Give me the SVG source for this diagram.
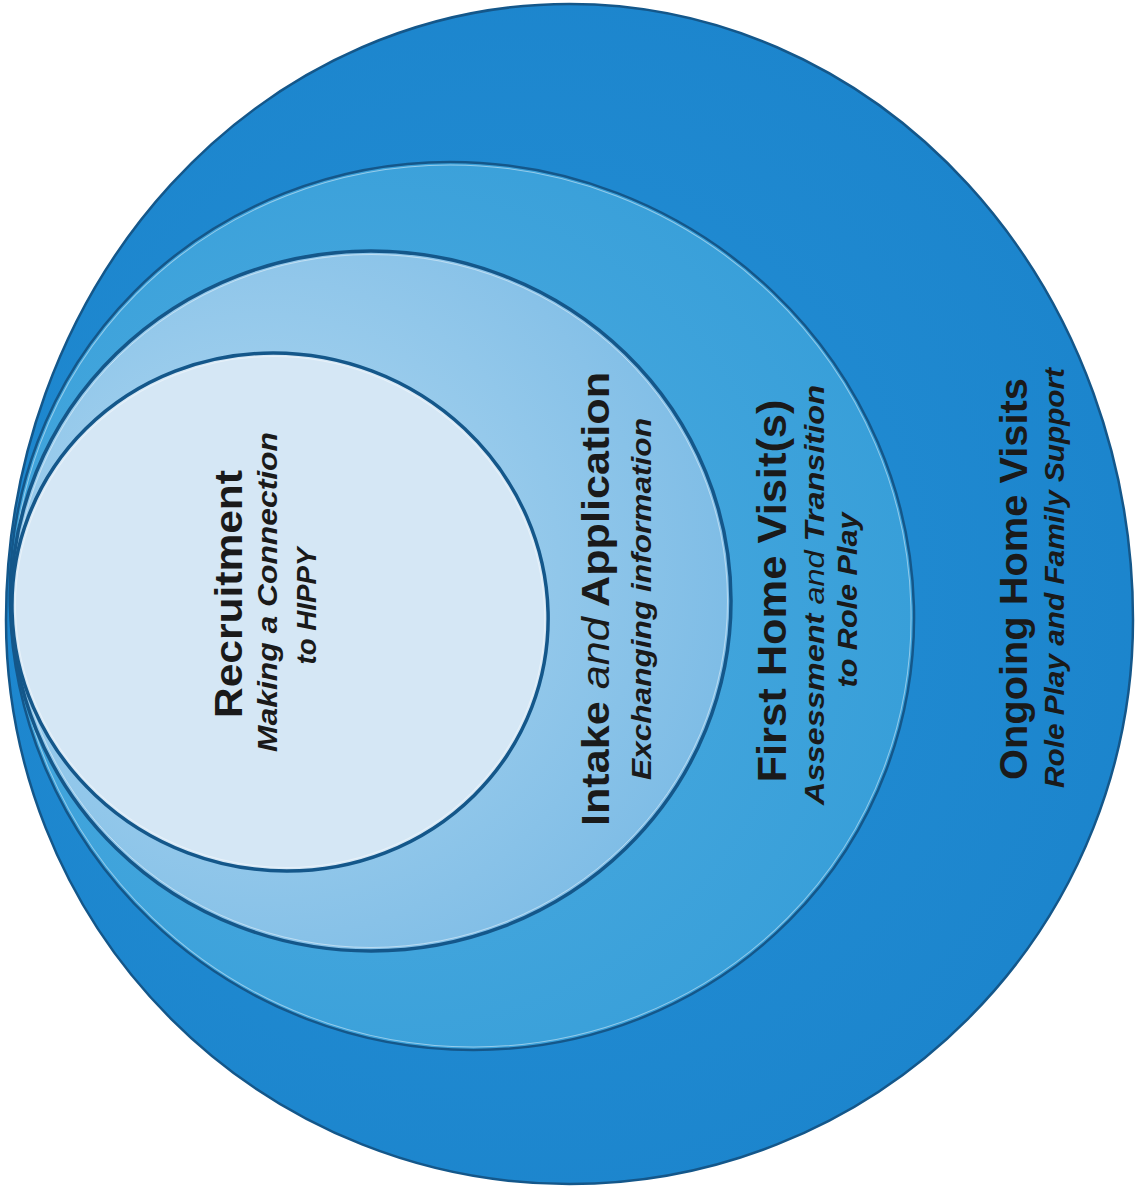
<svg xmlns="http://www.w3.org/2000/svg" width="1138" height="1191" viewBox="0 0 1138 1191">
  <defs>
    <style>
      .ring { stroke: #14578a; }
      .hl { fill: none; stroke: #ffffff; stroke-opacity: 0.45; stroke-width: 1; }
      .t { font-family: "Liberation Sans", Arial, sans-serif; fill: #1a1a1a; text-anchor: middle; }
      .b { font-weight: bold; }
      .bi { font-weight: bold; font-style: italic; }
      .ri { font-weight: normal; font-style: italic; }
    </style>
    <radialGradient id="g1" cx="0.45" cy="0.5" r="0.6">
      <stop offset="0" stop-color="#2590d6"/>
      <stop offset="1" stop-color="#1b84cc"/>
    </radialGradient>
    <radialGradient id="g2" cx="0.4" cy="0.5" r="0.6">
      <stop offset="0" stop-color="#4fade1"/>
      <stop offset="1" stop-color="#389fd9"/>
    </radialGradient>
    <radialGradient id="g3" cx="0.35" cy="0.45" r="0.65">
      <stop offset="0" stop-color="#b0d8f1"/>
      <stop offset="1" stop-color="#7fbde6"/>
    </radialGradient>
  </defs>
  <rect width="1138" height="1191" fill="#ffffff"/>

  <g id="ongoing">
    <path class="ring" d="M 6,620 A 563.5,616 0 0 1 1133,620 A 563.5,564 0 0 1 6,620 Z" fill="url(#g1)" stroke-width="2.5"/>
    <text class="t b" transform="translate(1027,579) rotate(-90)" font-size="38" textLength="402" lengthAdjust="spacingAndGlyphs">Ongoing Home Visits</text>
    <text class="t bi" transform="translate(1064,578) rotate(-90)" font-size="27" textLength="420" lengthAdjust="spacingAndGlyphs">Role Play and Family Support</text>
  </g>

  <g id="first-visit">
    <g transform="translate(0,610) skewX(1.5) translate(0,-610)">
      <ellipse class="ring" cx="462" cy="606" rx="452" ry="444" fill="url(#g2)" stroke-width="2.5"/>
      <ellipse class="hl" cx="462" cy="606" rx="449" ry="441"/>
    </g>
    <text class="t b" transform="translate(786,591) rotate(-90)" font-size="40" textLength="383" lengthAdjust="spacingAndGlyphs">First Home Visit(s)</text>
    <text class="t bi" transform="translate(824,595) rotate(-90)" font-size="28" textLength="420" lengthAdjust="spacingAndGlyphs">Assessment <tspan class="ri">and</tspan> Transition</text>
    <text class="t bi" transform="translate(857,600) rotate(-90)" font-size="28" textLength="175" lengthAdjust="spacingAndGlyphs">to Role Play</text>
  </g>

  <g id="intake">
    <ellipse class="ring" cx="371" cy="601" rx="360" ry="350" fill="url(#g3)" stroke-width="3.5"/>
    <ellipse class="hl" cx="371" cy="601" rx="356.5" ry="346.5"/>
    <text class="t b" transform="translate(609,599) rotate(-90)" font-size="38" textLength="454" lengthAdjust="spacingAndGlyphs">Intake <tspan class="ri">and</tspan> Application</text>
    <text class="t bi" transform="translate(651,599) rotate(-90)" font-size="28" textLength="362" lengthAdjust="spacingAndGlyphs">Exchanging information</text>
  </g>

  <g id="recruitment">
    <g transform="translate(0,610) skewX(1.5) translate(0,-610)">
      <ellipse class="ring" cx="280" cy="612" rx="268" ry="259" fill="#d5e7f5" stroke-width="3.5"/>
      <ellipse class="hl" cx="280" cy="612" rx="264.5" ry="255.5"/>
    </g>
    <text class="t b" transform="translate(242,594) rotate(-90)" font-size="38" textLength="248" lengthAdjust="spacingAndGlyphs">Recruitment</text>
    <text class="t bi" transform="translate(277,592) rotate(-90)" font-size="27" textLength="320" lengthAdjust="spacingAndGlyphs">Making a Connection</text>
    <text class="t bi" transform="translate(316,606) rotate(-90)" font-size="27" textLength="117" lengthAdjust="spacingAndGlyphs">to HIPPY</text>
  </g>

  <g id="connectors"></g>
</svg>
